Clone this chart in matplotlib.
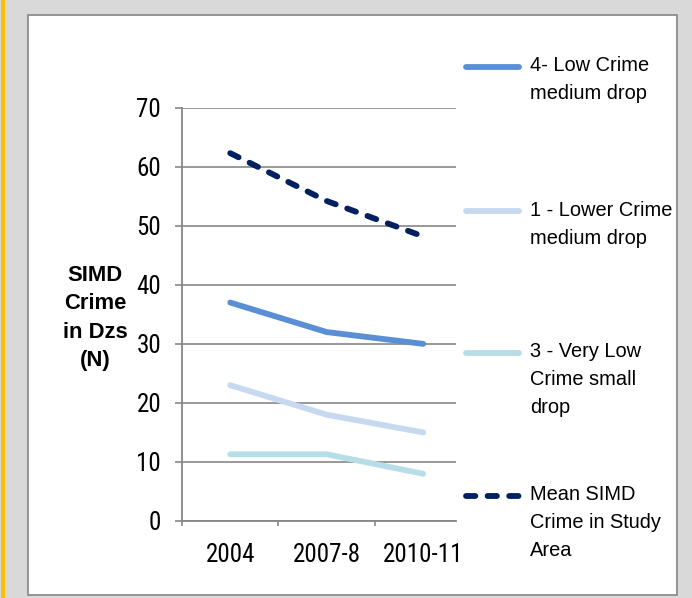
import numpy as np
import matplotlib
matplotlib.use("Agg")
import matplotlib.pyplot as plt
from matplotlib.patches import Rectangle
from matplotlib.legend_handler import HandlerLine2D
from matplotlib import font_manager
from matplotlib.font_manager import FontProperties

# ---- data ----
categories = ["2004", "2007-8", "2010-11"]
low_crime_medium = [37, 32, 30]
lower_crime_medium = [23, 18, 15]
very_low_small = [11.3, 11.3, 8]
mean_study_area = [62.3, 54.2, 48.2]
labels = ["4- Low Crime\nmedium drop",
          "1 - Lower Crime\nmedium drop",
          "3 - Very Low\nCrime small\ndrop",
          "Mean SIMD\nCrime in Study\nArea"]
y_ticks = [0, 10, 20, 30, 40, 50, 60, 70]

plt.rcParams["font.family"] = ["Liberation Sans", "DejaVu Sans"]

# look for a narrow / condensed sans face for the tick labels
narrow_fp = None
prefs = ["Liberation Sans Narrow", "Arial Narrow", "Roboto Condensed",
         "Open Sans Condensed", "Noto Sans", "Roboto", "Open Sans", "Inter", "Lato"]
cands = []
for f in font_manager.fontManager.ttflist:
    nm = f.name
    fn = f.fname.lower()
    is_narrow = (("narrow" in nm.lower()) or ("condensed" in nm.lower()) or
                 (str(f.stretch) in ("condensed", "semi-condensed", "extra-condensed", "500", "600")
                  and "condensed" in fn) or ("condensed" in fn and "semi" not in fn and "extra" not in fn)
                 or "narrow" in fn)
    if not is_narrow:
        continue
    if f.style != "normal":
        continue
    w = f.weight if isinstance(f.weight, int) else 400
    if w not in (400, "normal", "regular") and w != 400:
        continue
    if "mono" in fn or "serif" in nm.lower() and "sans" not in nm.lower():
        continue
    rank = next((i for i, p in enumerate(prefs) if nm.startswith(p)), len(prefs))
    cands.append((rank, f.fname))
if cands:
    cands.sort()
    narrow_fp = cands[0][1]

W, H = 692, 598
fig = plt.figure(figsize=(W / 100, H / 100), dpi=100)
fig.patch.set_facecolor("#d9d9d9")

def fx(px):
    return px / W

def fy(py):
    return 1 - py / H

# decorations: yellow stripe and white panel
fig.patches.append(Rectangle((fx(1.5), 0), fx(3.5), 1, transform=fig.transFigure,
                             facecolor="#ffc000", edgecolor="none", zorder=-2))
fig.patches.append(Rectangle((fx(28), fy(595)), fx(677 - 28), (595 - 15) / H,
                             transform=fig.transFigure, facecolor="white",
                             edgecolor="#8c8c8c", linewidth=1.3, zorder=-2))

ax = fig.add_axes([fx(182), fy(521), fx(456 - 182), (521 - 107.7) / H])
ax.set_facecolor("none")

x = np.arange(len(categories))
lw = 4.2
c_blue, c_light, c_cyan, c_navy = "#5a8fd5", "#c6d9f1", "#b7dee8", "#002060"
l1, = ax.plot(x, low_crime_medium, color=c_blue, lw=lw, solid_capstyle="round", solid_joinstyle="round", zorder=3)
l2, = ax.plot(x, lower_crime_medium, color=c_light, lw=lw, solid_capstyle="round", solid_joinstyle="round", zorder=3)
l3, = ax.plot(x, very_low_small, color=c_cyan, lw=lw, solid_capstyle="round", solid_joinstyle="round", zorder=3)
l4, = ax.plot(x, mean_study_area, color=c_navy, lw=lw, dashes=(1.6, 2.1),
              dash_capstyle="round", dash_joinstyle="round", zorder=3)

if narrow_fp:
    tick_fp = FontProperties(fname=narrow_fp, size=18)
else:
    tick_fp = FontProperties(family="Liberation Sans", size=16.5)

ax.set_ylim(0, 70)
ax.set_xlim(-0.5, 2.34)
ax.set_yticks(y_ticks)
ax.set_yticklabels([str(v) for v in y_ticks], fontproperties=tick_fp)
ax.set_xticks(x)
ax.set_xticklabels(categories, fontproperties=tick_fp)
ax.set_xticks([-0.5, 0.5, 1.5], minor=True)

gc = "#878787"
ax.grid(axis="y", color=gc, lw=1.2, zorder=1)
ax.set_axisbelow(True)
for s in ["top", "right"]:
    ax.spines[s].set_visible(False)
for s in ["left", "bottom"]:
    ax.spines[s].set_color(gc)
    ax.spines[s].set_linewidth(1.3)
ax.tick_params(axis="y", length=5, width=1.2, color=gc, pad=10)
ax.tick_params(axis="x", which="major", length=0, pad=16)
ax.tick_params(axis="x", which="minor", length=3.5, width=1.2, color=gc)

fig.text(fx(95), fy(318), "SIMD\nCrime\nin Dzs\n(N)", ha="center", va="center",
         ma="center", fontsize=15.8, fontweight="bold", linespacing=1.47)


class TopAligned(HandlerLine2D):
    def __init__(self, shift, **kw):
        super().__init__(**kw)
        self.shift = shift

    def create_artists(self, legend, orig_handle, xdescent, ydescent, width,
                       height, fontsize, trans):
        arts = super().create_artists(legend, orig_handle, xdescent, ydescent,
                                      width, height, fontsize, trans)
        for a in arts:
            a.set_ydata(np.asarray(a.get_ydata(), dtype=float) + self.shift)
        return arts


pitch_pt = 27 * 0.72
centers = [79.5, 224, 379.5, 522]
for line, lab, cy in zip([l1, l2, l3, l4], labels, centers):
    n = lab.count("\n") + 1
    leg = fig.legend([line], [lab], loc="center left",
                     bbox_to_anchor=(fx(466), fy(cy)), bbox_transform=fig.transFigure,
                     frameon=False, borderpad=0, borderaxespad=0,
                     handlelength=2.65, handletextpad=0.55, fontsize=14.4,
                     handler_map={line: TopAligned((n - 1) / 2 * pitch_pt)})
    for t in leg.get_texts():
        t.set_linespacing(1.6)

fig.savefig("out.png", dpi=100, facecolor=fig.get_facecolor())
